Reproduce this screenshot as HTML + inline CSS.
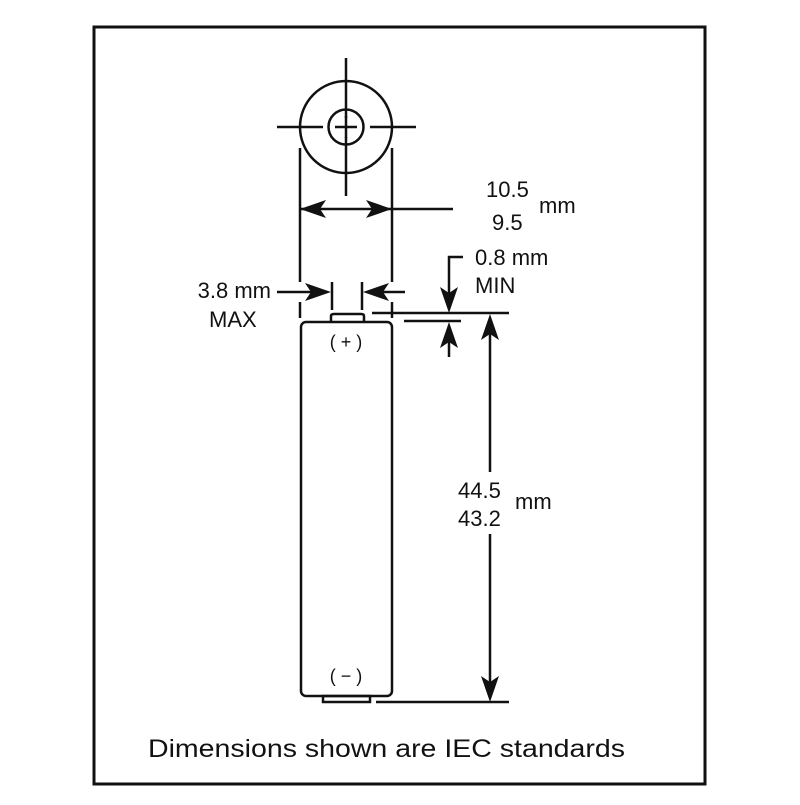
<!DOCTYPE html>
<html><head><style>html,body{margin:0;padding:0;background:#fff}</style></head>
<body>
<svg width="800" height="800" viewBox="0 0 800 800" xmlns="http://www.w3.org/2000/svg" font-family="Liberation Sans, sans-serif">
<rect x="94" y="27" width="611" height="757" fill="none" stroke="#111" stroke-width="3"/>
<g stroke="#111" stroke-width="2.5" fill="none">
<circle cx="346" cy="127" r="46"/>
<circle cx="346" cy="127" r="17.5"/>
<line x1="277" y1="127" x2="323" y2="127"/><line x1="370" y1="127" x2="416" y2="127"/>
<line x1="346" y1="58" x2="346" y2="118"/><line x1="346" y1="137" x2="346" y2="196"/>
<line x1="335" y1="127" x2="357" y2="127"/><line x1="346" y1="116" x2="346" y2="138"/>
<line x1="300" y1="148" x2="300" y2="282"/><line x1="392" y1="148" x2="392" y2="282"/>
<line x1="300" y1="302" x2="300" y2="318"/><line x1="392" y1="302" x2="392" y2="318"/>
<line x1="300" y1="209" x2="453" y2="209"/>
<line x1="277" y1="292" x2="325" y2="292"/><line x1="332" y1="282" x2="332" y2="310"/>
<line x1="362" y1="282" x2="362" y2="310"/><line x1="368" y1="292" x2="405" y2="292"/>
<polyline points="463,257 449,257 449,300"/>
<line x1="372" y1="313" x2="509" y2="313"/>
<line x1="404" y1="321" x2="461" y2="321"/>
<line x1="449" y1="333" x2="449" y2="357"/>
<line x1="490" y1="325" x2="490" y2="472"/>
<line x1="490" y1="534" x2="490" y2="690"/>
<line x1="376" y1="702" x2="509" y2="702"/>
<rect x="301" y="322" width="91" height="374" rx="5"/>
<path d="M331,322 V316 Q331,314 334,314 H361 Q364,314 364,316 V322"/>
<rect x="323" y="696" width="47" height="6"/>
</g>
<g fill="#111">
<polygon points="300,209 326,200 320,209 326,218"/>
<polygon points="392,209 366,200 372,209 366,218"/>
<polygon points="331,292 305,283 311,292 305,301"/>
<polygon points="363,292 389,283 383,292 389,301"/>
<polygon points="449,313 440,287 449,293 458,287"/>
<polygon points="449,322 440,348 449,342 458,348"/>
<polygon points="490,314 481,340 490,334 499,340"/>
<polygon points="490,702 481,676 490,682 499,676"/>
</g>
<g fill="#111" font-size="22">
<text x="486" y="197">10.5</text>
<text x="539" y="213">mm</text>
<text x="492" y="230">9.5</text>
<text x="475" y="265">0.8 mm</text>
<text x="475" y="293">MIN</text>
<text x="271" y="298" text-anchor="end">3.8 mm</text>
<text x="209" y="327">MAX</text>
<text x="458" y="498">44.5</text>
<text x="515" y="509">mm</text>
<text x="458" y="526">43.2</text>
<text x="346" y="348" text-anchor="middle" font-size="18">( + )</text>
<text x="346" y="682" text-anchor="middle" font-size="18">( − )</text>
<text x="148" y="757" font-size="25" textLength="477" lengthAdjust="spacingAndGlyphs">Dimensions shown are IEC standards</text>
</g>
</svg>
</body></html>
